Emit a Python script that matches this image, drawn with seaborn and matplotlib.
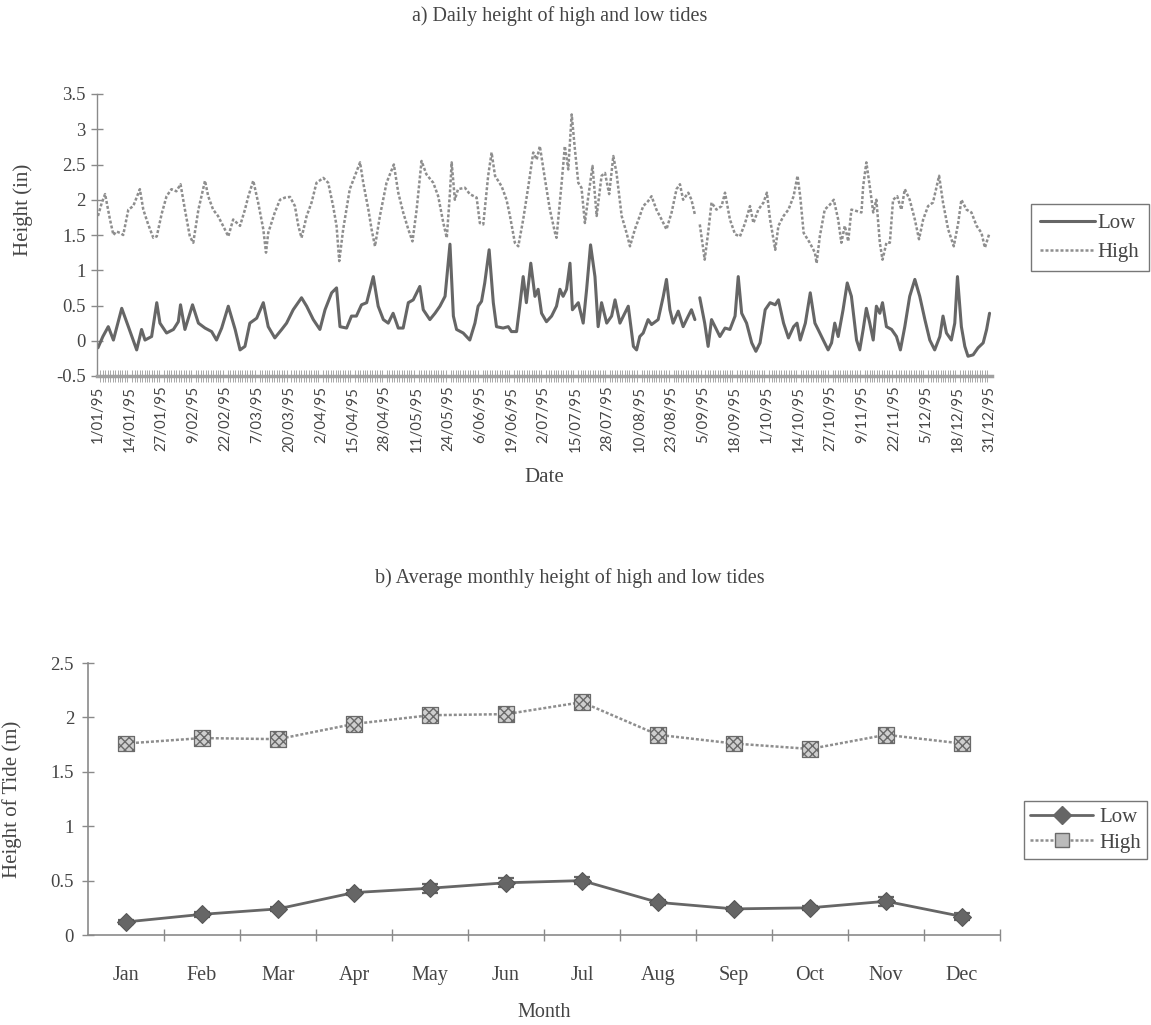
import numpy as np
import pandas as pd
import matplotlib
matplotlib.use("Agg")
import matplotlib.pyplot as plt
from matplotlib.lines import Line2D
from matplotlib.ticker import FuncFormatter
import seaborn as sns

# ---------------- data: a) daily tides (day offset from 1/01/95) ----------------
high_day = [0, 1.5, 2.9, 4.9, 6.3, 7.5, 9, 10.3, 12.4, 14.4, 17.1, 18.5, 20.5, 22.6, 24, 26, 28, 30, 32, 33.7,
            35.5, 37.5, 38.9, 41, 43.7, 45, 47, 49, 51.8, 53.2, 55.2, 58, 60, 61.4, 63.4, 65.4, 67.5, 68.6, 69.5,
            72.2, 74.3, 76.3, 78.4, 80.4, 81.8, 83.1, 85.2, 87.2, 89.2, 92, 94, 96, 97.4, 98.5, 100.1, 102.8,
            104.9, 107, 108.3, 110.4, 111.7, 113.1, 115.1, 117.8, 120.8, 122.6, 124.6, 126.7, 128.4, 130.1,
            132.1, 134.1, 136.9, 138.9, 141, 142.4, 143.7, 144.4, 145.7, 147, 149.8, 151.8, 154.6, 155.9,
            157.3, 159.3, 160.7, 162.1, 164.8, 166.8, 168.2, 170.2, 171.6, 173.6, 175.7, 177.7, 179.1, 180.4,
            182.5, 184.5, 186.6, 187.2, 189.3, 190.6, 192, 193.4, 194.7, 196.1, 197.4, 198.8, 200.2, 201.9,
            203.6, 205.6, 207, 208.7, 210.4, 211.7, 213.8, 215.8, 217.2, 219.2, 221.2, 222.6, 224.6, 226,
            228, 230.1, 232.1, 234.2, 236.2, 237.6, 238.9, 241, 242.3, 243.7, 244.7, 245.7, 247.7, 249.1,
            250.5, 252.5, 254.6, 256, 258, 260.1, 262.1, 264.2, 266.2, 267.6, 269.6, 271.7, 273.1, 274.4,
            276.5, 277.8, 279.9, 281.9, 284, 285.6, 286.7, 288.1, 290.6, 292.7, 293.4, 294.7, 296.7, 298.8,
            300.4, 302.2, 303.5, 304.9, 306.3, 307.6, 309.7, 311.7, 312.4, 313.7, 315.1, 316.5, 317.8, 319.2,
            320.3, 321.9, 323.3, 324.6, 326.3, 328, 329.4, 331.4, 333.5, 335.2, 336.9, 338.9, 340.9, 343.4,
            345, 347.1, 349.4, 351.2, 352.5, 354.6, 356.6, 358.7, 360.7, 362.1, 364]
high_m = [1.77, 1.95, 2.08, 1.72, 1.5, 1.55, 1.53, 1.5, 1.86, 1.91, 2.15, 1.86, 1.65, 1.46, 1.48, 1.8, 2.05, 2.15,
          2.12, 2.22, 1.86, 1.48, 1.39, 1.86, 2.27, 2.05, 1.86, 1.77, 1.58, 1.48, 1.72, 1.63, 1.86, 2.05, 2.27,
          1.96, 1.58, 1.25, 1.53, 1.82, 2.0, 2.03, 2.04, 1.91, 1.63, 1.46, 1.77, 1.96, 2.24, 2.31, 2.24, 1.91,
          1.63, 1.13, 1.58, 2.15, 2.34, 2.53, 2.24, 1.86, 1.58, 1.34, 1.77, 2.24, 2.5, 2.1, 1.82, 1.58, 1.41,
          1.86, 2.55, 2.36, 2.24, 2.05, 1.67, 1.46, 2.1, 2.53, 2.0, 2.15, 2.17, 2.08, 2.03, 1.67, 1.65, 2.34,
          2.67, 2.34, 2.19, 2.0, 1.77, 1.39, 1.34, 1.72, 2.19, 2.67, 2.57, 2.76, 2.29, 1.86, 1.53, 1.46, 2.24,
          2.76, 2.43, 3.21, 2.72, 2.24, 2.17, 1.67, 2.05, 2.48, 1.77, 2.34, 2.38, 2.08, 2.62, 2.38, 1.77, 1.53,
          1.34, 1.58, 1.77, 1.91, 1.98, 2.05, 1.86, 1.72, 1.58, 1.82, 2.15, 2.22, 2.0, 2.1, 2.0, 1.79, np.nan,
          1.65, 1.15, 1.53, 1.96, 1.86, 1.91, 2.1, 1.72, 1.51, 1.48, 1.67, 1.91, 1.67, 1.86, 1.96, 2.1, 1.72,
          1.29, 1.63, 1.77, 1.86, 2.05, 2.34, 2.05, 1.53, 1.39, 1.25, 1.1, 1.48, 1.86, 1.93, 2.0, 1.72, 1.39,
          1.63, 1.41, 1.86, 1.84, 1.82, 2.19, 2.53, 2.19, 1.82, 2.0, 1.39, 1.15, 1.39, 1.39, 2.0, 2.05, 1.86,
          2.15, 2.0, 1.72, 1.44, 1.72, 1.91, 1.96, 2.34, 1.96, 1.58, 1.34, 1.67, 2.0, 1.86, 1.82, 1.63, 1.53,
          1.32, 1.53]
low_day = [0, 2, 4.2, 6.3, 9.7, 12.4, 15.8, 17.8, 19.2, 21.9, 24, 25.3, 28, 30.8, 32.8, 33.7, 35.5, 38.6, 41,
           43.7, 46.4, 48.4, 50.5, 53.2, 56, 58, 60, 62, 64.8, 67.5, 69.5, 72.2, 75, 77, 79.7, 83.1, 85.2, 87.9,
           90.6, 92.7, 95.4, 97.4, 98.8, 101.5, 103.5, 105.5, 107.6, 109.7, 112.4, 114.4, 116.5, 118.5, 120.5,
           122.6, 124.6, 126.7, 128.7, 131.4, 132.8, 135.5, 137.6, 139.6, 141.7, 143.7, 145.1, 146.4, 149.1,
           151.8, 153.9, 155.2, 156.6, 157.9, 159.7, 161.4, 162.7, 165.4, 167.5, 168.8, 170.9, 172.2, 173.6,
           174.9, 176.7, 178.4, 179.7, 181.1, 183.1, 185.2, 187.2, 188.6, 189.9, 191.3, 192.7, 193.7, 196.1,
           198.1, 199.5, 201.1, 202.9, 204.2, 205.6, 207.7, 209.7, 211.1, 213.1, 214.5, 216.5, 218.6, 219.9,
           221.2, 222.6, 224.6, 226, 228.7, 230.8, 232.1, 233.5, 234.8, 236.9, 238.9, 241, 242.3, 243.7, 244.7,
           245.7, 247.7, 249.1, 250.5, 252.5, 253.9, 256, 258, 260.1, 261.4, 262.8, 264.8, 266.9, 268.6, 270.3,
           272.4, 274.4, 276.5, 277.8, 279.9, 281.9, 284, 285.4, 286.7, 288.8, 290.8, 292.7, 294, 296.1, 298.1,
           299.5, 300.8, 302.2, 304.2, 305.9, 307.6, 309.7, 311, 312.4, 313.7, 315.1, 316.5, 317.8, 319.2,
           320.3, 321.9, 324, 326, 327.6, 329.4, 331.4, 333.5, 335.5, 337.6, 339.6, 341.6, 343.7, 345, 346.4,
           348.4, 349.8, 350.9, 352.5, 353.9, 355.2, 357.3, 359.3, 361.4, 362.8, 364]
low_m = [-0.1, 0.06, 0.2, 0.01, 0.46, 0.2, -0.13, 0.16, 0.01, 0.06, 0.54, 0.25, 0.11, 0.16, 0.27, 0.51, 0.16,
         0.51, 0.25, 0.18, 0.13, 0.01, 0.18, 0.49, 0.16, -0.13, -0.08, 0.25, 0.32, 0.54, 0.2, 0.04, 0.16, 0.25,
         0.44, 0.61, 0.49, 0.3, 0.16, 0.44, 0.68, 0.75, 0.2, 0.18, 0.35, 0.35, 0.51, 0.54, 0.91, 0.49, 0.3, 0.25,
         0.39, 0.18, 0.18, 0.54, 0.58, 0.77, 0.44, 0.3, 0.39, 0.49, 0.63, 1.37, 0.35, 0.16, 0.11, 0.01, 0.25,
         0.49, 0.56, 0.82, 1.29, 0.54, 0.2, 0.18, 0.2, 0.13, 0.13, 0.49, 0.91, 0.54, 1.1, 0.63, 0.73, 0.39,
         0.27, 0.35, 0.49, 0.73, 0.63, 0.73, 1.1, 0.44, 0.54, 0.25, 0.73, 1.36, 0.91, 0.2, 0.54, 0.25, 0.35,
         0.58, 0.25, 0.35, 0.49, -0.08, -0.13, 0.06, 0.11, 0.3, 0.23, 0.3, 0.63, 0.87, 0.44, 0.25, 0.42, 0.2,
         0.35, 0.44, 0.3, np.nan, 0.61, 0.25, -0.08, 0.3, 0.16, 0.06, 0.18, 0.16, 0.35, 0.91, 0.39, 0.25, -0.03,
         -0.15, -0.03, 0.44, 0.54, 0.51, 0.58, 0.25, 0.04, 0.2, 0.25, 0.01, 0.25, 0.68, 0.25, 0.16, 0.01, -0.13,
         -0.03, 0.25, 0.06, 0.44, 0.82, 0.63, 0.01, -0.13, 0.16, 0.46, 0.25, 0.01, 0.49, 0.39, 0.54, 0.2, 0.16,
         0.06, -0.13, 0.2, 0.63, 0.87, 0.63, 0.3, 0.01, -0.13, 0.06, 0.35, 0.11, 0.01, 0.25, 0.91, 0.2, -0.08,
         -0.22, -0.2, -0.1, -0.03, 0.16, 0.39]
date_labels = ["1/01/95", "14/01/95", "27/01/95", "9/02/95", "22/02/95", "7/03/95", "20/03/95", "2/04/95",
               "15/04/95", "28/04/95", "11/05/95", "24/05/95", "6/06/95", "19/06/95", "2/07/95", "15/07/95",
               "28/07/95", "10/08/95", "23/08/95", "5/09/95", "18/09/95", "1/10/95", "14/10/95", "27/10/95",
               "9/11/95", "22/11/95", "5/12/95", "18/12/95", "31/12/95"]

# ---------------- data: b) monthly averages ----------------
months = ["Jan", "Feb", "Mar", "Apr", "May", "Jun", "Jul", "Aug", "Sep", "Oct", "Nov", "Dec"]
low_month = [0.12, 0.19, 0.24, 0.39, 0.43, 0.48, 0.50, 0.30, 0.24, 0.25, 0.31, 0.17]
low_err = [0.02, 0.02, 0.02, 0.02, 0.04, 0.04, 0.03, 0.02, 0.02, 0.02, 0.04, 0.03]
high_month = [1.76, 1.81, 1.80, 1.94, 2.02, 2.03, 2.14, 1.84, 1.76, 1.71, 1.84, 1.76]
high_err = [0.02, 0.02, 0.03, 0.03, 0.03, 0.04, 0.03, 0.02, 0.02, 0.02, 0.03, 0.03]

# ---------------- style ----------------
sns.set_theme(style="white")
plt.rcParams["font.family"] = ["Liberation Serif", "DejaVu Serif"]
TXT = "#454545"
AX = "#8a8a8a"
LOWC = "#666666"
HIGHC = "#8e8e8e"
DOT = (0, (1.2, 0.8))
W, H = 1151, 1025

fig = plt.figure(figsize=(W / 100, H / 100), dpi=100)


def seg_frame(days, vals):
    d = pd.DataFrame({"day": days, "h": vals})
    d["seg"] = d["h"].isna().cumsum()
    return d.dropna()


# ================= panel a =================
ax1 = fig.add_axes([97 / W, 1 - 376 / H, 895 / W, 282 / H])
sns.lineplot(data=seg_frame(low_day, low_m), x="day", y="h", units="seg", estimator=None,
             color=LOWC, lw=2.2, ax=ax1, legend=False)
sns.lineplot(data=seg_frame(high_day, high_m), x="day", y="h", units="seg", estimator=None,
             color=HIGHC, lw=1.8, linestyle=DOT, ax=ax1, legend=False)
ax1.set_xlim(-0.4, 365)
ax1.set_ylim(-0.5, 3.5)
ax1.set_yticks(np.arange(-0.5, 3.51, 0.5))
ax1.yaxis.set_major_formatter(FuncFormatter(lambda v, p: f"{v:g}"))
ax1.set_xticks(np.arange(0, 365, 13))
ax1.set_xticklabels(date_labels, rotation=90, family=["Lato", "DejaVu Sans"], fontsize=10.8, color=TXT)
ax1.set_xticks(np.arange(0, 365, 1), minor=True)
ax1.tick_params(axis="x", which="major", direction="inout", length=10, width=1.2, color="#777", pad=2)
ax1.tick_params(axis="x", which="minor", direction="inout", length=9, width=0.6, color="#9a9a9a", bottom=True)
ax1.tick_params(axis="y", direction="inout", length=8, width=1, color=AX, labelsize=13.5, labelcolor=TXT,
                left=True, pad=4)
for s in ["top", "right"]:
    ax1.spines[s].set_visible(False)
ax1.spines["left"].set_color(AX)
ax1.spines["left"].set_linewidth(1)
ax1.spines["bottom"].set_color("#a0a0a0")
ax1.spines["bottom"].set_linewidth(2.5)
ax1.set_xlabel("Date", fontsize=15, color=TXT, labelpad=12)
ax1.set_ylabel("Height (in)", fontsize=15, color=TXT)
ax1.yaxis.set_label_coords(-0.072, 0.59)
fig.text(0.486, 1 - 16 / H, "a) Daily height of high and low tides", ha="center", va="center",
         fontsize=14.5, color=TXT)
fig.legend([Line2D([0], [0], color=LOWC, lw=2.2), Line2D([0], [0], color=HIGHC, lw=1.8, linestyle=DOT)],
           ["Low", "High"], loc="upper left", bbox_to_anchor=(1031 / W, 1 - 204 / H),
           frameon=True, fancybox=False, edgecolor="#777", framealpha=1, fontsize=15,
           handlelength=2.6, handletextpad=0.15, borderpad=0.45, labelspacing=0.45, borderaxespad=0,
           labelcolor=TXT)

# ================= panel b =================
ax2 = fig.add_axes([88 / W, 1 - 935 / H, 912 / W, 272 / H])
xs = np.arange(len(months))
mdf = pd.DataFrame({"m": xs, "low": low_month, "high": high_month})
ax2.errorbar(xs, low_month, yerr=low_err, fmt="none", ecolor=LOWC, elinewidth=1.6, capsize=6, capthick=1.6)
ax2.errorbar(xs, high_month, yerr=high_err, fmt="none", ecolor="#777", elinewidth=1.6, capsize=6, capthick=1.6)
sns.lineplot(data=mdf, x="m", y="low", color=LOWC, lw=2.0, marker="D", markersize=9,
             markerfacecolor=LOWC, markeredgecolor="#555", ax=ax2)
sns.lineplot(data=mdf, x="m", y="high", color=HIGHC, lw=1.8, linestyle=DOT, ax=ax2)
sns.scatterplot(data=mdf, x="m", y="high", marker="s", s=130, color="#cfcfcf", edgecolor="#6a6a6a",
                linewidth=0.9, ax=ax2, zorder=5)
ax2.collections[-1].set_hatch("xxxx")
ax2.set_xlim(-0.5, 11.5)
ax2.set_ylim(0, 2.5)
ax2.set_yticks(np.arange(0, 2.51, 0.5))
ax2.yaxis.set_major_formatter(FuncFormatter(lambda v, p: f"{v:g}"))
ax2.set_xticks(xs)
ax2.set_xticklabels(months, fontsize=14.5, color=TXT)
ax2.set_xticks(np.arange(0.5, 11.6, 1), minor=True)
ax2.tick_params(axis="x", which="major", length=0, pad=22)
ax2.tick_params(axis="x", which="minor", direction="inout", length=9, width=1, color=AX, bottom=True)
ax2.tick_params(axis="y", direction="inout", length=8, width=1, color=AX, labelsize=13.5, labelcolor=TXT,
                left=True, pad=6)
for s in ["top", "right"]:
    ax2.spines[s].set_visible(False)
for s in ["left", "bottom"]:
    ax2.spines[s].set_color(AX)
    ax2.spines[s].set_linewidth(1.2)
ax2.set_xlabel("Month", fontsize=14.5, color=TXT, labelpad=13)
ax2.set_ylabel("Height of Tide (m)", fontsize=15, color=TXT)
ax2.yaxis.set_label_coords(-0.072, 0.5)
fig.text(0.495, 1 - 578 / H, "b) Average monthly height of high and low tides", ha="center", va="center",
         fontsize=14.5, color=TXT)
fig.legend([Line2D([0], [0], color=LOWC, lw=2, marker="D", markersize=9, markerfacecolor=LOWC),
            Line2D([0], [0], color=HIGHC, lw=1.8, linestyle=DOT, marker="s", markersize=10,
                   markerfacecolor="#bbbbbb", markeredgecolor="#6a6a6a")],
           ["Low", "High"], loc="upper left", bbox_to_anchor=(1024 / W, 1 - 801 / H), numpoints=1,
           frameon=True, fancybox=False, edgecolor="#777", framealpha=1, fontsize=15,
           handlelength=3.0, handletextpad=0.3, borderpad=0.3, labelspacing=0.3, borderaxespad=0,
           labelcolor=TXT)

fig.savefig("out.png", dpi=100, facecolor="white")
